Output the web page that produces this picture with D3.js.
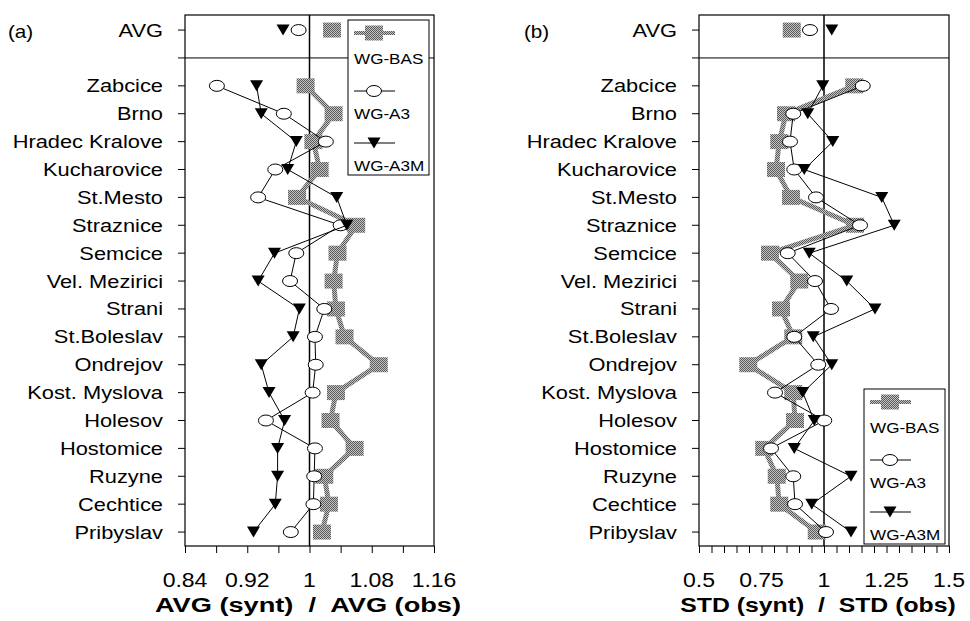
<!DOCTYPE html>
<html>
<head>
<meta charset="utf-8">
<script src="https://cdn.jsdelivr.net/npm/d3@7"></script>
<style>
body { margin: 0; background: #fff; }
text { font-family: Arial, "Liberation Sans", sans-serif; fill: #000; white-space: pre; }
</style>
</head>
<body>
<div id="chart"></div>
<script>
// Stations (rows below the AVG row)
var stations = ["Zabcice", "Brno", "Hradec Kralove", "Kucharovice", "St.Mesto", "Straznice",
    "Semcice", "Vel. Mezirici", "Strani", "St.Boleslav", "Ondrejov", "Kost. Myslova",
    "Holesov", "Hostomice", "Ruzyne", "Cechtice", "Pribyslav"];
var seriesNames = ["WG-BAS", "WG-A3", "WG-A3M"];

// (a) AVG (synt) / AVG (obs)
var meanBAS = [0.995, 1.031, 1.005, 1.013, 0.984, 1.060, 1.036, 1.031, 1.034, 1.045, 1.089, 1.034, 1.027, 1.058, 1.019, 1.025, 1.016];
var meanA3  = [0.881, 0.967, 1.021, 0.956, 0.934, 1.040, 0.983, 0.975, 1.019, 1.007, 1.008, 1.004, 0.944, 1.007, 1.006, 1.005, 0.976];
var meanA3M = [0.932, 0.938, 0.983, 0.972, 1.035, 1.048, 0.955, 0.934, 0.987, 0.979, 0.938, 0.948, 0.968, 0.959, 0.959, 0.956, 0.928];
var meanOverall = [1.029, 0.986, 0.966];   // BAS, A3, A3M
var meanTicks = [0.84, 0.92, 1, 1.08, 1.16];

// (b) STD (synt) / STD (obs)
var stdBAS = [1.121, 0.848, 0.821, 0.808, 0.868, 1.124, 0.784, 0.901, 0.828, 0.877, 0.697, 0.877, 0.884, 0.761, 0.811, 0.821, 0.971];
var stdA3  = [1.155, 0.877, 0.864, 0.881, 0.968, 1.144, 0.855, 0.964, 1.028, 0.881, 0.977, 0.804, 1.001, 0.788, 0.877, 0.884, 1.008];
var stdA3M = [0.995, 0.935, 1.035, 0.921, 1.231, 1.281, 0.941, 1.091, 1.204, 0.957, 1.031, 0.915, 0.961, 0.881, 1.108, 0.951, 1.108];
var stdOverall = [0.871, 0.944, 1.031];
var stdTicks = [0.5, 0.75, 1, 1.25, 1.5];

var svg = d3.select("#chart").append("svg")
    .attr("width", 970)
    .attr("height", 621);

// dithered grey like the original print
var pat = svg.append("defs").append("pattern")
    .attr("id", "dither")
    .attr("width", 2).attr("height", 2)
    .attr("patternUnits", "userSpaceOnUse");
pat.append("rect").attr("width", 2).attr("height", 2).attr("fill", "#c4c4c4");
pat.append("rect").attr("width", 1).attr("height", 1).attr("fill", "#5a5a5a");
pat.append("rect").attr("x", 1).attr("y", 1).attr("width", 1).attr("height", 1).attr("fill", "#5a5a5a");

var SX = 1.18; // text in the original is stretched horizontally

function addText(g, x, y, str, size, anchor, bold, sx) {
    return g.append("text")
        .attr("transform", `translate(${x},${y}) scale(${sx || SX},1)`)
        .attr("text-anchor", anchor)
        .style("font-size", size + "px")
        .style("font-weight", bold ? "bold" : "normal")
        .text(str);
}

var plotTop = 15, plotBottom = 546;
var y = d3.scaleLinear().domain([-0.54, 18.5]).range([plotTop, plotBottom]);

function drawMarker(g, type, cx, cy) {
    if (type == 0) {
        g.append("rect").attr("x", cx - 9).attr("y", cy - 7.5)
            .attr("width", 18).attr("height", 15).attr("fill", "url(#dither)");
    } else if (type == 1) {
        g.append("ellipse").attr("cx", cx).attr("cy", cy).attr("rx", 7.5).attr("ry", 5.5)
            .attr("fill", "#fff").attr("stroke", "#000").attr("stroke-width", 1);
    } else {
        g.append("path")
            .attr("d", `M${cx - 6.5},${cy - 5.5}L${cx + 6.5},${cy - 5.5}L${cx},${cy + 5.5}Z`)
            .attr("fill", "#000");
    }
}

function drawPanel(opt) {
    var g = svg.append("g");
    var x = d3.scaleLinear().domain(opt.domain).range([opt.left, opt.right]);

    // frame
    g.append("rect")
        .attr("x", opt.left).attr("y", plotTop)
        .attr("width", opt.right - opt.left).attr("height", plotBottom - plotTop)
        .attr("fill", "none").attr("stroke", "#000").attr("stroke-width", 1.2);

    // separator under AVG row
    g.append("line")
        .attr("x1", opt.left - 7).attr("x2", opt.right)
        .attr("y1", y(1)).attr("y2", y(1))
        .attr("stroke", "#000").attr("stroke-width", 1);

    // reference line at 1
    g.append("line")
        .attr("x1", x(1)).attr("x2", x(1))
        .attr("y1", plotTop).attr("y2", plotBottom)
        .attr("stroke", "#000").attr("stroke-width", 1.5);

    // y labels and ticks
    var rows = ["AVG"].concat(stations);
    rows.forEach(function(name, i) {
        var idx = i == 0 ? 0 : i + 1;
        g.append("line")
            .attr("x1", opt.left - 7).attr("x2", opt.left)
            .attr("y1", y(idx)).attr("y2", y(idx))
            .attr("stroke", "#000");
        addText(g, opt.left - 22, y(idx) + 6.5, name, 18.5, "end", false);
    });

    // x axis
    var xAxis = d3.axisBottom(x)
        .tickValues(d3.range(opt.domain[0], opt.domain[1] + 1e-9, opt.minor))
        .tickSize(7)
        .tickFormat("");
    var ax = g.append("g")
        .attr("transform", `translate(0, ${plotBottom})`)
        .call(xAxis);
    ax.select(".domain").remove();
    ax.selectAll("line").attr("stroke", "#000");

    opt.ticks.forEach(function(t) {
        addText(g, x(t), 587, String(t), 19.5, "middle", false);
    });
    addText(g, opt.titleX, 612, opt.title, 20, "middle", true, opt.titleSX);
    addText(g, opt.labelX, 38, opt.panel, 17.5, "start", false);

    // series
    var line = d3.line()
        .x(function(d) { return x(d); })
        .y(function(d, i) { return y(i + 2); });

    opt.series.forEach(function(vals, s) {
        g.append("path")
            .datum(vals)
            .attr("d", line)
            .attr("fill", "none")
            .attr("stroke", s == 0 ? "url(#dither)" : "#000")
            .attr("stroke-width", s == 0 ? 5 : 1);
        vals.forEach(function(v, i) {
            drawMarker(g, s, x(v), y(i + 2));
        });
        drawMarker(g, s, x(opt.overall[s]), y(0));
    });

    // legend
    var lg = g.append("g").attr("transform", `translate(${opt.legend[0]}, ${opt.legend[1]})`);
    lg.append("rect")
        .attr("width", 81).attr("height", 155)
        .attr("fill", "#fff").attr("stroke", "#000").attr("stroke-width", 1);
    var sampleY = [13, 71, 123];
    var labelY = [44, 99, 151];
    seriesNames.forEach(function(name, s) {
        lg.append("line")
            .attr("x1", 6).attr("x2", 47)
            .attr("y1", sampleY[s]).attr("y2", sampleY[s])
            .attr("stroke", s == 0 ? "url(#dither)" : "#000")
            .attr("stroke-width", s == 0 ? 4 : 1);
        drawMarker(lg, s, 26, sampleY[s]);
        addText(lg, 6, labelY[s], name, 14.5, "start", false);
    });
}

drawPanel({
    left: 185, right: 434,
    domain: [0.84, 1.16], minor: 0.04, ticks: meanTicks,
    series: [meanBAS, meanA3, meanA3M], overall: meanOverall,
    title: "AVG (synt)  /  AVG (obs)", titleX: 308, titleSX: 1.36, panel: "(a)", labelX: 8,
    legend: [348, 20]
});

drawPanel({
    left: 699, right: 949,
    domain: [0.5, 1.5], minor: 0.05, ticks: stdTicks,
    series: [stdBAS, stdA3, stdA3M], overall: stdOverall,
    title: "STD (synt)  /  STD (obs)", titleX: 818, titleSX: 1.24, panel: "(b)", labelX: 524,
    legend: [864, 389]
});
</script>
</body>
</html>
